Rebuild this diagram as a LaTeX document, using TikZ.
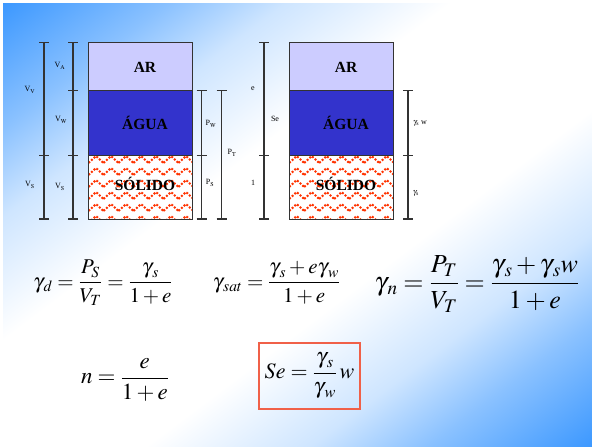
\documentclass[tikz,border=0pt]{standalone}
\usepackage{amsmath}
\usepackage{mathptmx}
\usepackage{fontspec}
\setmainfont{Liberation Serif}
\usetikzlibrary{positioning,calc}
\definecolor{bgblue}{RGB}{60,152,255}
\definecolor{arfill}{RGB}{204,204,255}
\definecolor{aguafill}{RGB}{51,51,204}
\definecolor{solred}{RGB}{255,51,0}
\definecolor{linegray}{RGB}{51,51,51}
\definecolor{boxred}{RGB}{240,96,72}
\pgfdeclareverticalshading{slidebg}{100bp}{color(0bp)=(bgblue); color(25bp)=(bgblue);
  color(32bp)=(bgblue!60); color(37bp)=(bgblue!25); color(44bp)=(white); color(56bp)=(white);
  color(63bp)=(bgblue!25); color(68bp)=(bgblue!60); color(75bp)=(bgblue); color(100bp)=(bgblue)}
\tikzset{
  fase/.style   ={draw=linegray,line width=0.9pt},
  fname/.style  ={font=\fontsize{15.5}{17}\selectfont\bfseries,inner sep=0pt},
  dim/.style    ={draw=linegray,line width=1.2pt},
  dlbl/.style   ={font=\fontsize{8}{9}\selectfont,inner sep=0pt},
  solpat/.style ={solred,line width=2pt,dash pattern=on 2pt off 1.6pt},
  eq/.style     ={inner sep=0pt},
}

\begin{document}
\begin{tikzpicture}[x=1pt,y=-1pt]
  \useasboundingbox (0,0) rectangle (592,447);
  \fill[white] (0,0) rectangle (592,447);
  \begin{scope}
    \clip (3,3) rectangle (592,447);
    \begin{scope}[transform canvas={shift={(297.5,225)},rotate=37}]
      \shade[shading=slidebg] (-500,-354.5) rectangle (500,354.5);
    \end{scope}
  \end{scope}
  % phase columns
  \foreach \xl/\xr in {88.3/192.7,289/393}{
    \draw[fase,fill=arfill] (\xl,42.7) rectangle (\xr,90.7);
    \draw[fase,fill=aguafill] (\xl,90.7) rectangle (\xr,155.3);
    \fill[white] (\xl,155.3) rectangle (\xr,219);
    \begin{scope}
      \clip (\xl,155.3) rectangle (\xr,219);
      \foreach \r in {0,...,5}
        \draw[solpat] \foreach \k in {0,...,8}
          {({\xl-14.8+15*\k},{163+12*\r}) -- ++(7.5,-7) -- ++(7.5,7)};
    \end{scope}
    \draw[fase] (\xl,155.3) rectangle (\xr,219);
  }
  \node[fname] (ar1) at (145,67) {AR};
  \node[fname] (ag1) at (145,123) {ÁGUA};
  \node[fname] (so1) at (145,184) {SÓLIDO};
  \node[fname] (ar2) at (346,67) {AR};
  \node[fname] (ag2) at (346,123) {ÁGUA};
  \node[fname] (so2) at (346,184) {SÓLIDO};
  % dimension lines
  \foreach \xd/\ya/\yb/\tks in {44/42.7/219/{42.7,155.3,219},
                                 73/42.7/219/{42.7,90.7,155.3,219},
                                 201.5/90.7/219/{90.7,155.3,219},
                                 221.5/90.7/219/{90.7,219},
                                 264/42.7/219/{42.7,155.3,219},
                                 408/90.7/219/{90.7,155.3,219}}{
    \draw[dim] (\xd,\ya) -- (\xd,\yb);
    \foreach \t in \tks
      \draw[dim] ({\xd-5},\t) -- ({\xd+5},\t);
  }
  \node[dlbl] (vv)  at (30,90)   {V$_\mathrm{V}$};
  \node[dlbl] (va)  at (60,66)   {V$_\mathrm{A}$};
  \node[dlbl] (vw)  at (61,120)  {V$_\mathrm{W}$};
  \node[dlbl] (vs1) at (30,185)  {V$_\mathrm{S}$};
  \node[dlbl] (vs2) at (60,187)  {V$_\mathrm{S}$};
  \node[dlbl] (pw)  at (211,124) {P$_\mathrm{W}$};
  \node[dlbl] (ps)  at (210,183) {P$_\mathrm{S}$};
  \node[dlbl] (pt)  at (232,153) {P$_\mathrm{T}$};
  \node[dlbl] (ve)  at (253,89)  {e};
  \node[dlbl] (se)  at (275,119) {Se};
  \node[dlbl] (um)  at (253,183) {1};
  \node[dlbl] (gw)  at (420,123) {$\gamma_\mathrm{s}$ w};
  \node[dlbl] (gs)  at (416,193) {$\gamma_\mathrm{s}$};
  % relations
  \node[eq,font=\fontsize{21}{25}\selectfont] (gd) at (103,283)
    {$\gamma_{\,d}=\dfrac{P_S}{V_T}=\dfrac{\gamma_{\,s}}{1+e}$};
  \node[eq,font=\fontsize{21}{25}\selectfont] (gsat) at (276.5,283)
    {$\gamma_{\,sat}=\dfrac{\gamma_{\,s}+e\gamma_{\,w}}{1+e}$};
  \node[eq,font=\fontsize{26}{30}\selectfont] (gn) at (477,284)
    {$\gamma_{\,n}=\dfrac{P_T}{V_T}=\dfrac{\gamma_{\,s}+\gamma_{\,s}w}{1+e}$};
  \node[eq,font=\fontsize{23}{27}\selectfont] (nn) at (125,380)
    {$n=\dfrac{e}{1+e}$};
  \node[eq,draw=boxred,line width=1.2pt,minimum width=101pt,minimum height=66pt,
        font=\fontsize{22}{26}\selectfont] (sebox) at (309.5,376)
    {$Se=\dfrac{\gamma_{\,s}}{\gamma_{\,w}}\,w$};
\end{tikzpicture}
\end{document}
